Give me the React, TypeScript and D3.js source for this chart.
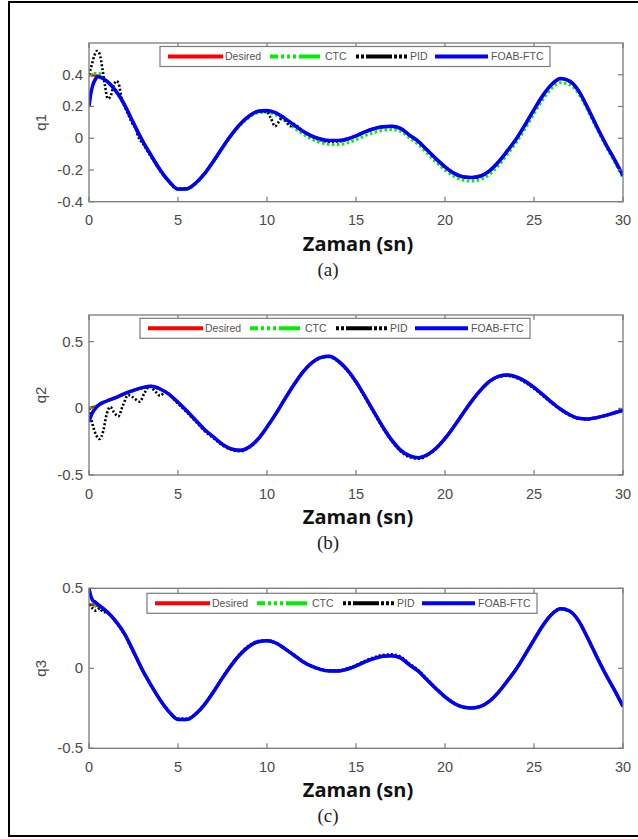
import * as d3 from 'd3';
import React, { useEffect, useRef } from 'react';

// sample times (s) for the 0.5 s grid series
const timeGrid = d3.range(0, 30.001, 0.5);

// ---- q1 ----
const q1Desired = [
  0.40, 0.393, 0.36, 0.30, 0.21, 0.095, -0.015, -0.11, -0.20, -0.272,
  -0.32, -0.318, -0.282, -0.222, -0.143, -0.058, 0.022, 0.09, 0.14, 0.17,
  0.175, 0.16, 0.125, 0.085, 0.045, 0.015, -0.005, -0.015, -0.015, -0.005,
  0.015, 0.04, 0.06, 0.073, 0.075, 0.062, 0.02, -0.02, -0.075, -0.13,
  -0.18, -0.22, -0.243, -0.248, -0.238, -0.205, -0.15, -0.08, -0.005, 0.085,
  0.18, 0.27, 0.34, 0.376, 0.36, 0.30, 0.195, 0.08, -0.03, -0.13,
  -0.235,
];
const q1Ctc = [
  0.40, 0.41, 0.36, 0.295, 0.205, 0.09, -0.02, -0.115, -0.205, -0.277,
  -0.324, -0.323, -0.287, -0.227, -0.148, -0.063, 0.017, 0.083, 0.132, 0.16,
  0.163, 0.145, 0.11, 0.068, 0.028, -0.005, -0.027, -0.038, -0.04, -0.03,
  -0.01, 0.015, 0.036, 0.05, 0.055, 0.044, 0.003, -0.04, -0.095, -0.15,
  -0.2, -0.24, -0.263, -0.27, -0.26, -0.228, -0.172, -0.102, -0.027, 0.06,
  0.155, 0.245, 0.315, 0.35, 0.338, 0.282, 0.18, 0.067, -0.043, -0.143,
  -0.25,
];
const q1Pid = [
  [0, 0.40], [0.15, 0.46], [0.3, 0.52], [0.45, 0.55], [0.6, 0.53], [0.75, 0.44],
  [0.9, 0.33], [1.05, 0.25], [1.2, 0.26], [1.35, 0.32], [1.55, 0.36], [1.7, 0.33],
  [1.85, 0.24], [2.0, 0.2], [2.2, 0.15], [2.4, 0.1], [2.6, 0.065], [2.8, 0.0],
  [3.0, -0.03], [3.5, -0.12], [4, -0.205], [4.5, -0.277], [5, -0.322], [5.5, -0.32],
  [6, -0.282], [6.5, -0.222], [7, -0.146], [7.5, -0.06], [8, 0.02], [8.5, 0.088],
  [9, 0.14], [9.5, 0.168], [10, 0.165], [10.2, 0.13], [10.45, 0.075], [10.7, 0.11],
  [10.9, 0.135], [11.1, 0.1], [11.3, 0.075], [11.55, 0.09], [11.8, 0.065], [12, 0.045],
  [12.5, 0.01], [13, -0.012], [13.5, -0.022], [14, -0.02], [14.5, -0.008], [15, 0.013],
  [15.5, 0.037], [16, 0.058], [16.5, 0.07], [17, 0.072], [17.5, 0.06], [18, 0.018],
  [18.5, -0.022], [19, -0.077], [19.5, -0.132], [20, -0.182], [20.5, -0.222], [21, -0.245],
  [21.5, -0.25], [22, -0.24], [22.5, -0.207], [23, -0.152], [23.5, -0.082], [24, -0.007],
  [24.5, 0.082], [25, 0.177], [25.5, 0.267], [26, 0.338], [26.5, 0.373], [27, 0.357],
  [27.5, 0.297], [28, 0.193], [28.5, 0.078], [29, -0.032], [29.5, -0.132], [30, -0.237],
];
// FOAB-FTC start transient, afterwards it sits on the desired path
const q1FoabStart = [[0, 0.2], [0.1, 0.28], [0.2, 0.33], [0.35, 0.37], [0.5, 0.388]];

// ---- q2 ----
const q2Desired = [
  0.0, 0.02, 0.055, 0.08, 0.11, 0.135, 0.155, 0.165, 0.145, 0.105,
  0.045, -0.02, -0.09, -0.16, -0.215, -0.27, -0.305, -0.315, -0.29, -0.23,
  -0.14, -0.04, 0.07, 0.175, 0.27, 0.34, 0.38, 0.39, 0.355, 0.29,
  0.2, 0.09, -0.025, -0.138, -0.237, -0.313, -0.355, -0.37, -0.348, -0.299,
  -0.226, -0.137, -0.04, 0.054, 0.137, 0.202, 0.24, 0.25, 0.236, 0.204,
  0.157, 0.102, 0.045, -0.007, -0.048, -0.074, -0.08, -0.07, -0.055, -0.035,
  -0.015,
];
const q2Ctc = [
  0.0, 0.022, 0.055, 0.08, 0.108, 0.133, 0.153, 0.163, 0.143, 0.103,
  0.043, -0.022, -0.092, -0.162, -0.217, -0.271, -0.306, -0.316, -0.291, -0.231,
  -0.141, -0.041, 0.069, 0.173, 0.268, 0.338, 0.378, 0.388, 0.353, 0.288,
  0.198, 0.088, -0.027, -0.14, -0.239, -0.315, -0.357, -0.371, -0.349, -0.3,
  -0.227, -0.138, -0.041, 0.052, 0.135, 0.2, 0.238, 0.248, 0.234, 0.202,
  0.155, 0.1, 0.043, -0.009, -0.05, -0.075, -0.081, -0.071, -0.056, -0.036,
  -0.016,
];
const q2Pid = [
  [0, 0.0], [0.2, -0.12], [0.4, -0.2], [0.6, -0.23], [0.8, -0.17], [1.0, -0.04],
  [1.2, 0.01], [1.4, -0.03], [1.65, -0.06], [1.9, 0.02], [2.2, 0.1], [2.5, 0.08],
  [2.85, 0.05], [3.1, 0.11], [3.4, 0.165], [3.7, 0.13], [4.0, 0.095], [4.3, 0.125],
  [4.6, 0.09], [5, 0.035], [5.5, -0.03], [6, -0.1], [6.5, -0.17], [7, -0.225],
  [7.5, -0.278], [8, -0.31], [8.5, -0.322], [9, -0.295], [9.5, -0.232], [10, -0.14],
  [10.5, -0.04], [11, 0.068], [11.5, 0.172], [12, 0.266], [12.5, 0.336], [13, 0.377],
  [13.5, 0.386], [14, 0.35], [14.5, 0.283], [15, 0.193], [15.5, 0.082], [16, -0.033],
  [16.5, -0.146], [17, -0.245], [17.5, -0.322], [18, -0.365], [18.5, -0.378], [19, -0.355],
  [19.5, -0.303], [20, -0.228], [20.5, -0.137], [21, -0.038], [21.5, 0.056], [22, 0.138],
  [22.5, 0.2], [23, 0.236], [23.5, 0.244], [24, 0.228], [24.5, 0.195], [25, 0.148],
  [25.5, 0.094], [26, 0.038], [26.5, -0.012], [27, -0.052], [27.5, -0.077], [28, -0.082],
  [28.5, -0.07], [29, -0.052], [29.5, -0.03], [30, -0.008],
];
const q2FoabStart = [[0, -0.1], [0.1, -0.06], [0.25, -0.02], [0.45, 0.012], [0.5, 0.02]];

// ---- q3 ----
const q3Desired = [
  0.40, 0.39, 0.355, 0.295, 0.215, 0.105, -0.01, -0.108, -0.198, -0.272,
  -0.32, -0.32, -0.285, -0.225, -0.146, -0.06, 0.02, 0.088, 0.138, 0.166,
  0.172, 0.158, 0.123, 0.083, 0.043, 0.013, -0.007, -0.017, -0.017, -0.006,
  0.015, 0.04, 0.061, 0.075, 0.078, 0.065, 0.022, -0.018, -0.073, -0.128,
  -0.178, -0.218, -0.242, -0.248, -0.238, -0.205, -0.15, -0.08, -0.005, 0.085,
  0.178, 0.268, 0.338, 0.372, 0.358, 0.298, 0.193, 0.078, -0.032, -0.132,
  -0.238,
];
const q3Ctc = [
  0.40, 0.382, 0.352, 0.292, 0.212, 0.102, -0.013, -0.11, -0.2, -0.274,
  -0.322, -0.322, -0.287, -0.227, -0.148, -0.062, 0.018, 0.086, 0.136, 0.164,
  0.17, 0.156, 0.121, 0.081, 0.041, 0.011, -0.009, -0.019, -0.019, -0.008,
  0.013, 0.038, 0.059, 0.073, 0.076, 0.063, 0.02, -0.02, -0.075, -0.13,
  -0.18, -0.22, -0.244, -0.25, -0.24, -0.207, -0.152, -0.082, -0.007, 0.082,
  0.175, 0.265, 0.335, 0.368, 0.355, 0.295, 0.19, 0.075, -0.035, -0.135,
  -0.24,
];
const q3Pid = [
  [0, 0.40], [0.2, 0.375], [0.4, 0.36], [0.6, 0.375], [0.8, 0.35], [1, 0.35],
  [1.5, 0.29], [2, 0.21], [2.5, 0.1], [3, -0.014], [3.5, -0.112], [4, -0.2],
  [4.5, -0.27], [5, -0.314], [5.5, -0.314], [6, -0.282], [6.5, -0.222], [7, -0.141],
  [7.5, -0.055], [8, 0.025], [8.5, 0.093], [9, 0.143], [9.5, 0.17], [10, 0.174],
  [10.5, 0.16], [11, 0.125], [11.5, 0.085], [12, 0.045], [12.5, 0.015], [13, -0.004],
  [13.5, -0.013], [14, -0.012], [14.5, -0.001], [15, 0.02], [15.5, 0.046], [16, 0.068],
  [16.5, 0.083], [17, 0.087], [17.5, 0.073], [18, 0.029], [18.5, -0.012], [19, -0.068],
  [19.5, -0.124], [20, -0.175], [20.5, -0.216], [21, -0.241], [21.5, -0.248], [22, -0.237],
  [22.5, -0.203], [23, -0.147], [23.5, -0.077], [24, -0.002], [24.5, 0.088], [25, 0.181],
  [25.5, 0.27], [26, 0.34], [26.5, 0.374], [27, 0.36], [27.5, 0.3], [28, 0.195],
  [28.5, 0.08], [29, -0.03], [29.5, -0.13], [30, -0.236],
];
const q3FoabStart = [[0, 0.5], [0.08, 0.46], [0.2, 0.425], [0.35, 0.413], [0.5, 0.4]];

const legendNames = ['Desired', 'CTC', 'PID', 'FOAB-FTC'];
const xTicks = [0, 5, 10, 15, 20, 25, 30];

const panels = [
  { label: 'q1', caption: '(a)', desired: q1Desired, ctc: q1Ctc, pid: q1Pid, foab: q1FoabStart,
    domain: [-0.4, 0.6], yTicks: [-0.4, -0.2, 0, 0.2, 0.4], top: 43, bottom: 201.7, legendX: 160, legendY: 56.5 },
  { label: 'q2', caption: '(b)', desired: q2Desired, ctc: q2Ctc, pid: q2Pid, foab: q2FoabStart,
    domain: [-0.5, 0.7], yTicks: [-0.5, 0, 0.5], top: 315, bottom: 475, legendX: 140, legendY: 328.3 },
  { label: 'q3', caption: '(c)', desired: q3Desired, ctc: q3Ctc, pid: q3Pid, foab: q3FoabStart,
    domain: [-0.5, 0.5], yTicks: [-0.5, 0, 0.5], top: 588.3, bottom: 748.3, legendX: 147, legendY: 603.3 },
];

const colors = { desired: '#ff0000', ctc: '#00ee00', pid: '#000000', foab: '#0000ff' };
const sans = "'Liberation Sans', Arial, sans-serif";

export default function App() {
  const svgRef = useRef(null);
  const width = 638;
  const height = 839;
  const left = 89;
  const right = 623;

  useEffect(() => {
    const svg = d3.select(svgRef.current);
    svg.selectAll('*').remove();

    svg.append('rect').attr('width', width).attr('height', height).attr('fill', '#fff');
    // outer frame
    svg.append('rect')
      .attr('x', 9).attr('y', 2).attr('width', 640).attr('height', 834)
      .attr('fill', 'none').attr('stroke', '#000').attr('stroke-width', 2);

    const xScale = d3.scaleLinear().domain([0, 30]).range([left, right]);

    panels.forEach(p => {
      const yScale = d3.scaleLinear().domain(p.domain).range([p.bottom, p.top]);
      const g = svg.append('g');

      const line = d3.line()
        .x(d => xScale(d[0]))
        .y(d => yScale(d[1]))
        .curve(d3.curveMonotoneX);

      const desiredPts = timeGrid.map((t, i) => [t, p.desired[i]]);
      const ctcPts = timeGrid.map((t, i) => [t, p.ctc[i]]);
      const lastStart = p.foab[p.foab.length - 1][0];
      const foabPts = p.foab.concat(desiredPts.filter(d => d[0] > lastStart + 0.25));

      const clipId = 'clip-' + p.label;
      g.append('clipPath').attr('id', clipId)
        .append('rect')
        .attr('x', left).attr('y', p.top)
        .attr('width', right - left).attr('height', p.bottom - p.top);

      const plot = g.append('g').attr('clip-path', `url(#${clipId})`);
      plot.append('path').datum(desiredPts)
        .attr('fill', 'none').attr('stroke', colors.desired).attr('stroke-width', 3).attr('d', line);
      plot.append('path').datum(ctcPts)
        .attr('fill', 'none').attr('stroke', colors.ctc).attr('stroke-width', 3)
        .attr('stroke-dasharray', '2.5,2.5').attr('d', line);
      plot.append('path').datum(p.pid)
        .attr('fill', 'none').attr('stroke', colors.pid).attr('stroke-width', 2.6)
        .attr('stroke-dasharray', '2,2').attr('d', line);
      plot.append('path').datum(foabPts)
        .attr('fill', 'none').attr('stroke', colors.foab).attr('stroke-width', 3.5)
        .attr('stroke-linejoin', 'round').attr('d', line);

      // axes box with inward ticks on all sides
      const axisColor = '#7a7a7a';
      g.append('rect')
        .attr('x', left).attr('y', p.top)
        .attr('width', right - left).attr('height', p.bottom - p.top)
        .attr('fill', 'none').attr('stroke', axisColor).attr('stroke-width', 1.3);

      xTicks.forEach(t => {
        const xx = xScale(t);
        g.append('line').attr('x1', xx).attr('x2', xx).attr('y1', p.bottom).attr('y2', p.bottom - 5)
          .attr('stroke', axisColor).attr('stroke-width', 1.2);
        g.append('line').attr('x1', xx).attr('x2', xx).attr('y1', p.top).attr('y2', p.top + 5)
          .attr('stroke', axisColor).attr('stroke-width', 1.2);
        g.append('text').attr('x', xx).attr('y', p.bottom + 23.5)
          .attr('text-anchor', 'middle').attr('font-family', sans).attr('font-size', 14.5)
          .attr('fill', '#4a4a4a').text(t);
      });

      p.yTicks.forEach(v => {
        const yy = yScale(v);
        g.append('line').attr('x1', left).attr('x2', left + 5).attr('y1', yy).attr('y2', yy)
          .attr('stroke', axisColor).attr('stroke-width', 1.2);
        g.append('line').attr('x1', right).attr('x2', right - 5).attr('y1', yy).attr('y2', yy)
          .attr('stroke', axisColor).attr('stroke-width', 1.2);
        g.append('text').attr('x', 83).attr('y', yy + 5)
          .attr('text-anchor', 'end').attr('font-family', sans).attr('font-size', 15)
          .attr('fill', '#4a4a4a').text(v);
      });

      // y label
      g.append('text')
        .attr('transform', `translate(46,${(p.top + p.bottom) / 2}) rotate(-90)`)
        .attr('text-anchor', 'middle').attr('font-family', sans).attr('font-size', 15)
        .attr('fill', '#4a4a4a').text(p.label);

      // x label and caption
      g.append('text').attr('x', 358).attr('y', p.bottom + 49)
        .attr('text-anchor', 'middle').attr('font-family', "'Open Sans', sans-serif")
        .attr('font-weight', 'bold').attr('font-size', 20).attr('fill', '#111')
        .text('Zaman (sn)');
      g.append('text').attr('x', 328).attr('y', p.bottom + 74)
        .attr('text-anchor', 'middle').attr('font-family', "'Liberation Serif', serif")
        .attr('font-size', 19).attr('fill', '#222')
        .text(p.caption);

      // legend
      const lg = g.append('g').attr('transform', `translate(${p.legendX},${p.legendY})`);
      lg.append('rect').attr('x', 0).attr('y', -10).attr('width', 390).attr('height', 20)
        .attr('fill', '#fff').attr('stroke', '#7a7a7a').attr('stroke-width', 1.2);
      const entries = [
        { x0: 8, len: 55, tx: 65, color: colors.desired, dash: null },
        { x0: 110, len: 50, tx: 165, color: colors.ctc, dash: '8,3,3,3,3,3,3,3,40' },
        { x0: 196, len: 51, tx: 250, color: colors.pid, dash: '3,2,3,2,26,2,3,2,3,2,3' },
        { x0: 275, len: 53, tx: 331, color: colors.foab, dash: null },
      ];
      entries.forEach((e, i) => {
        lg.append('line').attr('x1', e.x0).attr('x2', e.x0 + e.len).attr('y1', 0).attr('y2', 0)
          .attr('stroke', e.color).attr('stroke-width', 4)
          .attr('stroke-dasharray', e.dash);
        lg.append('text').attr('x', e.tx).attr('y', 3.8)
          .attr('font-family', sans).attr('font-size', 10.5).attr('fill', '#555')
          .text(legendNames[i]);
      });
    });
  }, []);

  return (
    <svg ref={svgRef} width={width} height={height}
      style={{ position: 'absolute', left: 0, top: 0, display: 'block' }} />
  );
}
